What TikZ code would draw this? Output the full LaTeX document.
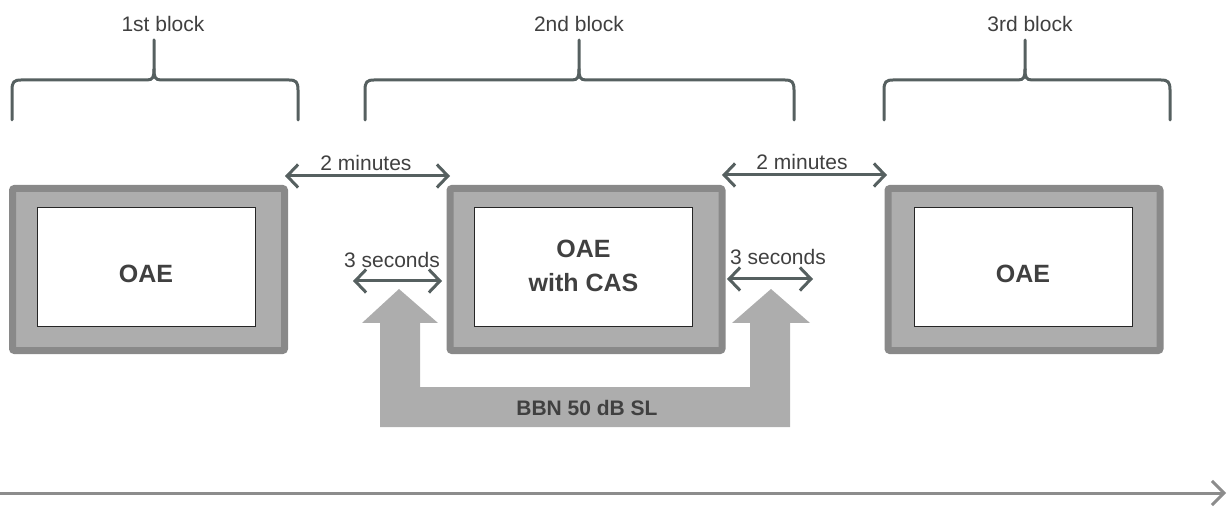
\documentclass[tikz,border=0pt]{standalone}
\usepackage{fontspec}
\setmainfont{Liberation Sans}
\usetikzlibrary{arrows.meta}
\definecolor{framegrey}{HTML}{898989}
\definecolor{fillgrey}{HTML}{ADADAD}
\definecolor{slate}{HTML}{566060}
\definecolor{txt}{HTML}{404040}
\definecolor{lineg}{HTML}{8C8C8C}
\newcommand\blockbrace[3]{%
  \draw[bracepath] (#1,120) -- (#1,90) .. controls (#1,82) and (#1+2,80) .. (#1+9,80)
     -- (#2-7,80) .. controls (#2-1,80) and (#2,77) .. (#2,69) -- (#2,40);
  \draw[bracepath] (#2,69) .. controls (#2,77) and (#2+1,80) .. (#2+7,80)
     -- (#3-9,80) .. controls (#3-2,80) and (#3,82) .. (#3,90) -- (#3,120);
}
\begin{document}
\begin{tikzpicture}[x=1pt,y=-1pt,
  outerbox/.style={draw=framegrey, fill=fillgrey, line width=7pt, rounded corners=2pt,
    minimum width=272pt, minimum height=162pt, inner sep=0pt},
  innerbox/.style={draw=black!85, fill=white, line width=1pt,
    minimum width=218pt, minimum height=119pt, inner sep=0pt},
  boxtext/.style={font=\fontsize{25}{30}\selectfont\bfseries, text=txt, anchor=base, inner sep=0pt},
  lbl/.style={font=\fontsize{21}{25}\selectfont, text=txt, anchor=base, inner sep=0pt},
  dbl/.style={draw=slate, line width=3pt,
    {Straight Barb[length=11pt,width=23pt]}-{Straight Barb[length=11pt,width=23pt]}},
  bracepath/.style={draw=slate, line width=3pt, line cap=round}
]
\useasboundingbox (0,0) rectangle (1228,518);

% braces and block labels
\blockbrace{12}{154}{298}
\blockbrace{365}{579}{794}
\blockbrace{884}{1025}{1170}
\node[lbl] (b1) at (163,31.5) {1st block};
\node[lbl] (b2) at (579,31.5) {2nd block};
\node[lbl] (b3) at (1030,31.5) {3rd block};

% boxes
\node[outerbox] (o1) at (148.5,269.5) {};
\node[outerbox] (o2) at (586,269.5) {};
\node[outerbox] (o3) at (1024,269.5) {};
\node[innerbox] (i1) at (146,267.5) {};
\node[innerbox] (i2) at (583.5,267.5) {};
\node[innerbox] (i3) at (1023,267.5) {};
\node[boxtext] (t1) at (146,283) {OAE};
\node[boxtext] (t2a) at (583.5,258) {OAE};
\node[boxtext] (t2b) at (583.5,292) {with CAS};
\node[boxtext] (t3) at (1023,283) {OAE};

% BBN U-arrow
\fill[fillgrey] (380,427) -- (380,323) -- (362,323) -- (399,289) -- (438,323) -- (420,323)
  -- (420,387) -- (750,387) -- (750,323) -- (732,323) -- (771,289) -- (810,323)
  -- (790,323) -- (790,427) -- cycle;
\node[boxtext, font=\fontsize{21}{25}\selectfont\bfseries] (bbn) at (587,415) {BBN 50 dB SL};

% interval arrows
\coordinate (m1a) at (285,176); \coordinate (m1b) at (450,176);
\coordinate (m2a) at (722,175); \coordinate (m2b) at (887,175);
\coordinate (s1a) at (353,281); \coordinate (s1b) at (442,281);
\coordinate (s2a) at (727,279); \coordinate (s2b) at (813,279);
\draw[dbl] (m1a) -- (m1b);
\draw[dbl] (m2a) -- (m2b);
\draw[dbl] (s1a) -- (s1b);
\draw[dbl] (s2a) -- (s2b);
\node[lbl] (l1) at (366,171) {2 minutes};
\node[lbl] (l2) at (802,170) {2 minutes};
\node[lbl] (l3) at (392,268) {3 seconds};
\node[lbl] (l4) at (778,265) {3 seconds};

% time line
\coordinate (ta) at (0,493); \coordinate (tb) at (1226,493);
\draw[lineg, line width=3pt, -{Straight Barb[length=12pt,width=24pt]}] (ta) -- (tb);
\end{tikzpicture}
\end{document}
